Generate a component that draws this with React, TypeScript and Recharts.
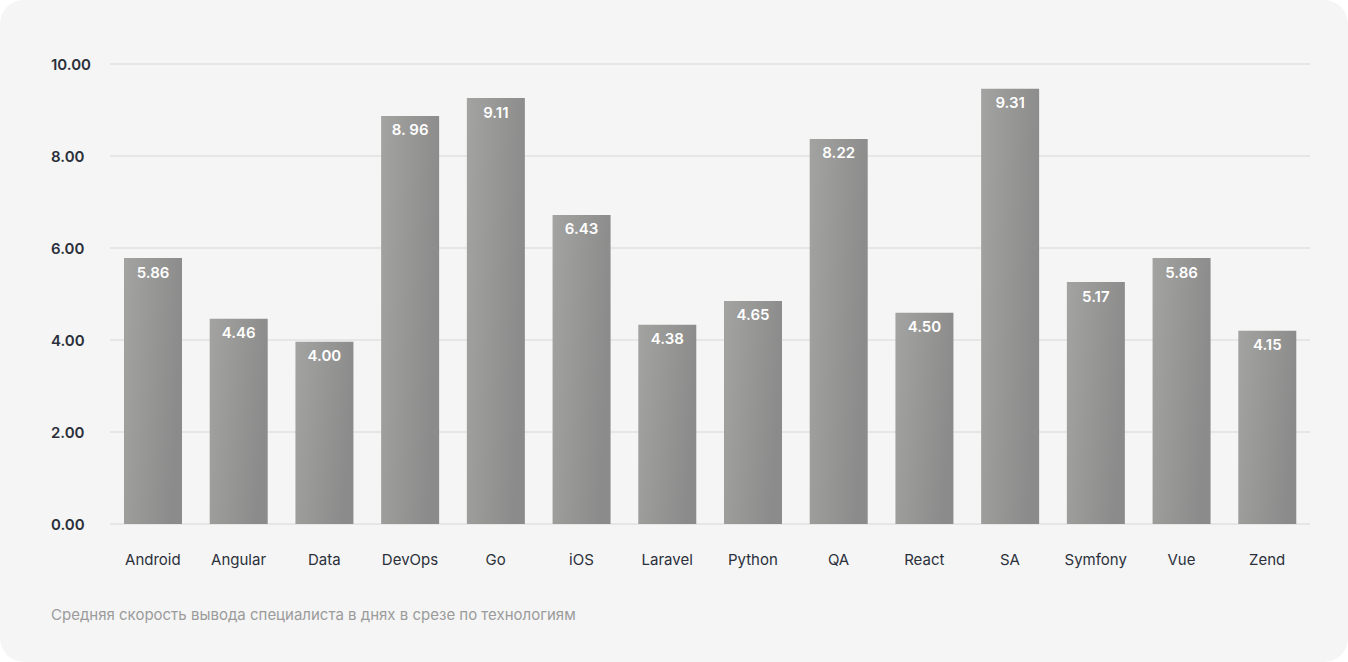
import { BarChart, Bar, XAxis, YAxis, CartesianGrid, LabelList } from "recharts";

const categories = [
  "Android", "Angular", "Data", "DevOps", "Go", "iOS", "Laravel",
  "Python", "QA", "React", "SA", "Symfony", "Vue", "Zend",
];
// bar heights as drawn in the picture (they differ a little from the printed labels)
const barValues = [5.78, 4.46, 3.96, 8.87, 9.26, 6.72, 4.33, 4.85, 8.37, 4.59, 9.46, 5.26, 5.78, 4.2];
const valueLabels = [
  "5.86", "4.46", "4.00", "8. 96", "9.11", "6.43", "4.38",
  "4.65", "8.22", "4.50", "9.31", "5.17", "5.86", "4.15",
];
const yTicks = [0, 2, 4, 6, 8, 10];
const caption = "Средняя скорость вывода специалиста в днях в срезе по технологиям";

const data = categories.map((name, i) => ({ name, value: barValues[i], label: valueLabels[i] }));

const FONT = "Inter, 'Noto Sans', sans-serif";

function YTick({ y, payload }: any) {
  return (
    <text x={51} y={y} dominantBaseline="central" textAnchor="start"
      fontFamily={FONT} fontSize={15} fontWeight={600} fill="#2b303b">
      {Number(payload.value).toFixed(2)}
    </text>
  );
}

function XTick({ x, y, payload }: any) {
  return (
    <text x={x} y={y + 29} dominantBaseline="central" textAnchor="middle"
      fontFamily={FONT} fontSize={15} fill="#2b303b">
      {payload.value}
    </text>
  );
}

function BarLabel({ x, y, width, value }: any) {
  return (
    <text x={x + width / 2} y={y + 14} dominantBaseline="central" textAnchor="middle"
      fontFamily={FONT} fontSize={15} fontWeight={600} fill="#ffffff">
      {value}
    </text>
  );
}

export default function App() {
  return (
    <div style={{ position: "fixed", left: 0, top: 0, width: 1348, height: 662, background: "#ffffff" }}>
      <div style={{ position: "relative", width: 1348, height: 662, background: "#f5f5f5", borderRadius: 24 }}>
        <BarChart width={1348} height={600} data={data}
          margin={{ top: 64, right: 38, left: 0, bottom: 16 }}>
          <defs>
            <linearGradient id="barGrad" x1="0" y1="0" x2="1" y2="0.25">
              <stop offset="0%" stopColor="#a3a3a1" />
              <stop offset="100%" stopColor="#8b8b8b" />
            </linearGradient>
          </defs>
          <CartesianGrid vertical={false} stroke="#e6e6e6" strokeWidth={2} />
          <YAxis domain={[0, 10]} ticks={yTicks} width={110} axisLine={false} tickLine={false} tick={<YTick />} />
          <XAxis dataKey="name" height={60} axisLine={false} tickLine={false} tickMargin={0} tick={<XTick />} />
          <Bar dataKey="value" fill="url(#barGrad)" barSize={58} isAnimationActive={false}>
            <LabelList dataKey="label" content={<BarLabel />} />
          </Bar>
        </BarChart>
        <div style={{ position: "absolute", left: 51, top: 605, fontFamily: FONT, fontSize: 15, color: "#9b9b9b" }}>
          {caption}
        </div>
      </div>
    </div>
  );
}
